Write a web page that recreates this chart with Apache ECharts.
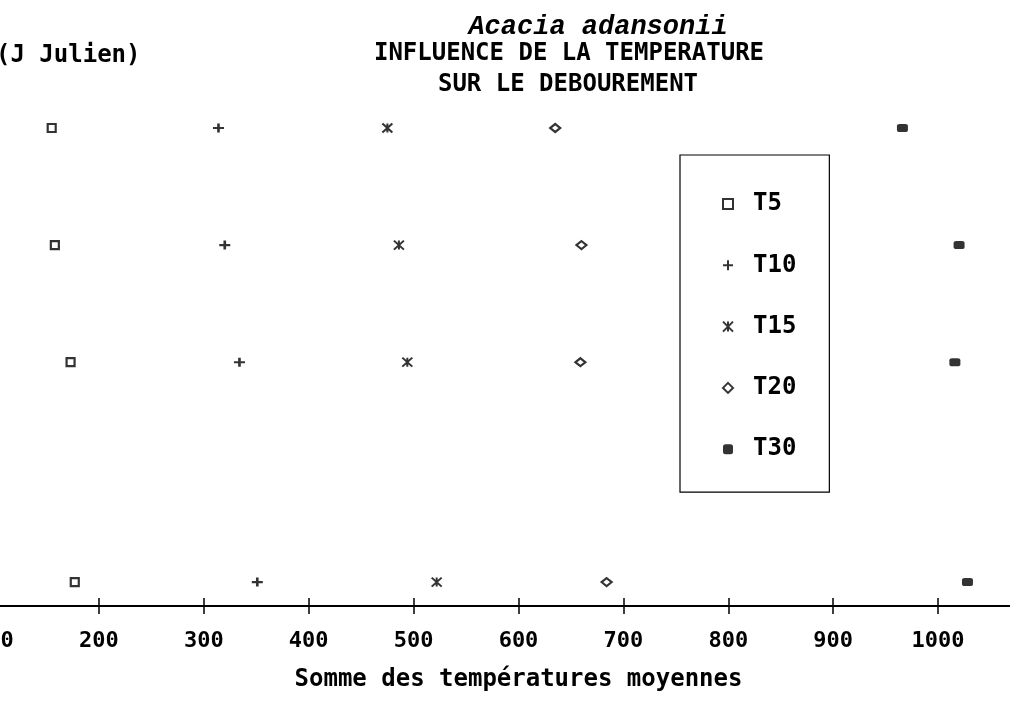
<!DOCTYPE html>
<html>
<head>
<meta charset="utf-8">
<script src="https://cdn.jsdelivr.net/npm/echarts@6/dist/echarts.min.js"></script>
<style>
html,body{margin:0;padding:0;background:#fff;overflow:hidden;width:1010px;height:701px;}
#wrap{position:relative;width:1010px;height:701px;overflow:hidden;}
#chart{position:absolute;left:-6px;top:0;width:1049px;height:701px;}
</style>
</head>
<body>
<div id="wrap"><div id="chart"></div></div>
<script>
// Julian-day level of each row (y)
const yDays = [20, 15.1, 10.2, 1];
// Somme des températures moyennes for each temperature treatment
const T5  = [155, 158, 173, 177];
const T10 = [314, 320, 334, 351];
const T15 = [475, 486, 494, 522];
const T20 = [635, 660, 659, 684];
const T30 = [966, 1020, 1016, 1028];
const seriesNames = ['T5', 'T10', 'T15', 'T20', 'T30'];
const xMin = 100, xMax = 1100, xStep = 100;

const titleLines = ['Acacia adansonii', 'INFLUENCE DE LA TEMPERATURE', 'SUR LE DEBOUREMENT'];
const yName = '(J Julien)';
const xName = 'Somme des températures moyennes';

const values = [T5, T10, T15, T20, T30];
const pts = v => v.map((x, i) => [x, yDays[i]]);

const symbolDefs = [
  {symbol: 'rect', size: [8, 8], style: {color: '#fff', borderColor: '#000', borderWidth: 2.2}},
  {symbol: 'path://M0,5L10,5M5,0L5,10', size: [11, 9], style: {color: 'rgba(0,0,0,0)', borderColor: '#000', borderWidth: 2.4}},
  {symbol: 'path://M0,0L10,10M10,0L0,10M5,0L5,10', size: [10, 9], style: {color: 'rgba(0,0,0,0)', borderColor: '#000', borderWidth: 1.9}},
  {symbol: 'diamond', size: [10, 8], style: {color: '#fff', borderColor: '#000', borderWidth: 2.2}},
  {symbol: 'roundRect', size: [11, 8], style: {color: '#000', borderColor: '#000', borderWidth: 0}}
];

// chart canvas is shifted 6px left of the page
const OX = 6;

const chart = echarts.init(document.getElementById('chart'), null, {renderer: 'canvas'});

const axisCommon = {
  type: 'value', min: xMin, max: xMax, interval: xStep,
  position: 'bottom', splitLine: {show: false}
};

const option = {
  animation: false,
  backgroundColor: '#fff',
  grid: {left: 0, right: 0, top: 128, bottom: 95, containLabel: false, outerBoundsMode: 'none'},
  xAxis: [
    Object.assign({}, axisCommon, {
      name: xName,
      nameLocation: 'middle',
      nameGap: 62,
      nameTextStyle: {fontFamily: 'DejaVu Sans Mono', fontWeight: 'bold', fontSize: 24, color: '#000'},
      axisLine: {show: true, onZero: false, lineStyle: {color: '#000', width: 2}},
      axisTick: {show: true, inside: false, length: 8, lineStyle: {color: '#000', width: 1.5}},
      axisLabel: {
        show: true, margin: 24, color: '#000',
        fontFamily: 'DejaVu Sans Mono', fontWeight: 'bold', fontSize: 22,
        showMinLabel: true, showMaxLabel: true, hideOverlap: false,
        formatter: v => (v >= xMax ? '' : String(v))
      }
    }),
    Object.assign({}, axisCommon, {
      axisLine: {show: false, onZero: false},
      axisTick: {show: true, inside: true, length: 8, lineStyle: {color: '#000', width: 1.5}},
      axisLabel: {show: false}
    })
  ],
  yAxis: {type: 'value', min: 0, max: 20, show: false},
  legend: {
    orient: 'vertical',
    left: 680 + OX, top: 155,
    padding: [35, 33, 29, 42],
    itemGap: 33.3,
    itemWidth: 10, itemHeight: 10,
    borderColor: '#000', borderWidth: 1.2,
    selectedMode: false,
    textStyle: {fontFamily: 'DejaVu Sans Mono', fontWeight: 'bold', fontSize: 24, lineHeight: 28, color: '#000', padding: [0, 0, 0, 15]},
    data: seriesNames
  },
  graphic: [
    {type: 'text', x: 598 + OX, y: 27, style: {text: titleLines[0], font: 'italic bold 27px "Liberation Mono"', fill: '#000', textAlign: 'center', textVerticalAlign: 'middle'}},
    {type: 'text', x: 569 + OX, y: 54, style: {text: titleLines[1], font: 'bold 24px "DejaVu Sans Mono"', fill: '#000', textAlign: 'center', textVerticalAlign: 'middle'}},
    {type: 'text', x: 568 + OX, y: 85, style: {text: titleLines[2], font: 'bold 24px "DejaVu Sans Mono"', fill: '#000', textAlign: 'center', textVerticalAlign: 'middle'}},
    {type: 'text', x: -4 + OX, y: 56, style: {text: yName, font: 'bold 24px "DejaVu Sans Mono"', fill: '#000', textAlign: 'left', textVerticalAlign: 'middle'}}
  ],
  series: seriesNames.map((name, k) => ({
    name: name,
    type: 'scatter',
    xAxisIndex: 0,
    data: pts(values[k]),
    symbol: symbolDefs[k].symbol,
    symbolSize: symbolDefs[k].size,
    itemStyle: symbolDefs[k].style,
    emphasis: {disabled: true},
    z: 3
  }))
};

chart.setOption(option);
</script>
</body>
</html>
